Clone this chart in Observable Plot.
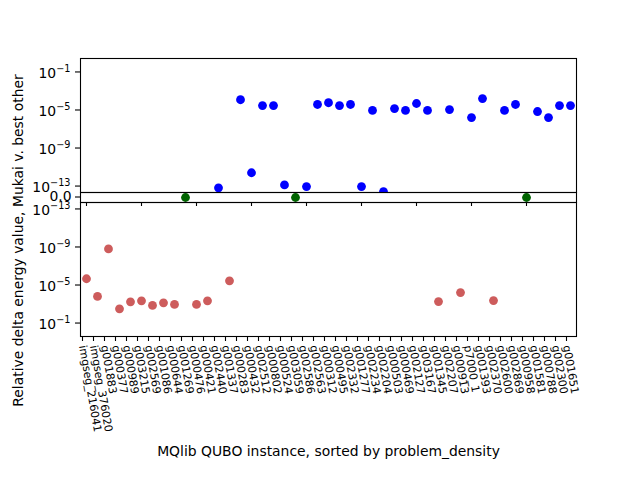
<!DOCTYPE html>
<html><head><meta charset="utf-8">
<script src="https://cdn.jsdelivr.net/npm/d3@7"></script>
<script src="https://cdn.jsdelivr.net/npm/@observablehq/plot@0.6"></script>
<style>
body{margin:0;background:white;}
#chart{position:relative;width:640px;height:480px;font-family:"DejaVu Sans";}
#chart svg{position:absolute;left:0;top:0;}
</style></head><body><div id="chart"></div>
<script>
const instances = ["imgseg_216041","imgseg_376020","g001883","g000377","g000989","g003215","g002569","g001086","g000644","g001269","g000476","g000421","g002440","g001337","g000283","g000432","g002512","g000802","g000524","g003059","g002586","g002563","g000312","g000495","g002332","g001277","g002234","g002204","g000503","g000469","g002127","g003167","g001345","g002207","g000913","p7000_1","g001393","g002370","g002600","g002869","g000958","g001581","g000788","g002300","g001651"];
// relative delta energy, Mukai v. best other (negative = Mukai better, 0 = tie)
const delta = [-2.2e-6,-1.6e-4,-1.6e-9,-3.2e-3,-5.9e-4,-4.6e-4,-1.4e-3,-7.5e-4,-1.1e-3,0,-1.1e-3,-4.6e-4,6.5e-14,-3.6e-6,1.2e-4,2.5e-12,2.9e-5,2.9e-5,1.3e-13,0,8.9e-14,3.8e-5,5.8e-5,2.9e-5,3.8e-5,8.9e-14,8.9e-6,2.6e-14,1.4e-5,8.9e-6,4.8e-5,8.9e-6,-5.5e-4,1.1e-5,-6.2e-5,1.6e-6,1.6e-4,-4.3e-4,8.9e-6,3.8e-5,0,6.9e-6,1.6e-6,2.9e-5,2.9e-5];
const logTicks = [1e-13,1e-9,1e-5,1e-1];
const zeroTicks = [0];
const logDomain = [2.1e-14, 2.6];
const yLabel = "Relative delta energy value, Mukai v. best other";
const xLabel = "MQlib QUBO instance, sorted by problem_density";

const expo = d => Math.round(Math.log10(d));
const expText = d => (expo(d) < 0 ? "\u2212" : "") + Math.abs(expo(d));

const rows = instances.map((name, i) => ({name, v: delta[i]}));
const pos = rows.filter(d => d.v > 0);
const zero = rows.filter(d => d.v === 0);
const neg = rows.filter(d => d.v < 0).map(d => ({name: d.name, m: -d.v}));
const every5 = instances.filter((d, i) => i % 5 === 0);

const W = 640, H = 480;
const common = {
  width: W, height: H, marginLeft: 80, marginRight: 64,
  style: {background: "transparent", fontFamily: "DejaVu Sans", fontSize: "14px", color: "black", overflow: "visible"},
  x: {type: "point", domain: instances, padding: 0.5, axis: null}
};

// log-axis tick marks + "10" with raised exponent labels
function logAxis() {
  const short = logTicks.filter(d => String(Math.abs(expo(d))).length === 1);
  const long = logTicks.filter(d => String(Math.abs(expo(d))).length === 2);
  const base = (data, w) => Plot.text(data, {y: d => d, text: () => "10", frameAnchor: "left", textAnchor: "end", dx: -(10 + w), dy: 1.6, fontSize: 13.9});
  return [
    Plot.axisY(logTicks, {tickFormat: () => "", tickSize: 5, label: null, strokeWidth: 1.1}),
    base(short, 14.3),
    base(long, 20.5),
    Plot.text(logTicks, {y: d => d, text: expText, frameAnchor: "left", textAnchor: "end", dx: -10, dy: -3.2, fontSize: 9.7})
  ];
}

const topPlot = Plot.plot({
  ...common, marginTop: 58, marginBottom: H - 192,
  y: {type: "log", domain: logDomain, axis: null},
  marks: [
    Plot.dot(pos, {x: "name", y: "v", r: 4.4, fill: "#0000ff", clip: true}),
    Plot.frame({stroke: "black", strokeWidth: 1.1}),
    ...logAxis()
  ]
});

const midPlot = Plot.plot({
  ...common, marginTop: 192, marginBottom: H - 202,
  y: {domain: [-1, 1], axis: null},
  marks: [
    Plot.dot(zero, {x: "name", y: "v", r: 4.4, fill: "#006400"}),
    Plot.frame({stroke: "black", strokeWidth: 1.1}),
    Plot.axisY(zeroTicks, {tickFormat: d => d.toFixed(1), tickSize: 5, tickPadding: 4, fontSize: 13.9, dy: -0.5, label: null, strokeWidth: 1.1}),
    Plot.axisX(every5, {tickSize: 4, tickFormat: () => "", label: null, strokeWidth: 1.1})
  ]
});

const botPlot = Plot.plot({
  ...common, marginTop: 202, marginBottom: H - 336,
  y: {type: "log", domain: logDomain, reverse: true, axis: null},
  marks: [
    Plot.dot(neg, {x: "name", y: "m", r: 4.4, fill: "#cd5c5c", clip: true}),
    Plot.frame({stroke: "black", strokeWidth: 1.1}),
    ...logAxis(),
    Plot.axisX({tickRotate: 80, fontSize: 11, tickSize: 5, tickPadding: 4, dx: -4, label: null, strokeWidth: 1.1}),
    Plot.text([yLabel], {text: d => d, frameAnchor: "left", dx: -62, dy: -29, rotate: -90, textAnchor: "middle", lineAnchor: "middle", fontSize: 13.9}),
    Plot.text([xLabel], {text: d => d, frameAnchor: "bottom", dy: 115, textAnchor: "middle", lineAnchor: "middle", fontSize: 13.9})
  ]
});

const el = document.getElementById("chart");
el.append(botPlot, midPlot, topPlot);
</script></body></html>
